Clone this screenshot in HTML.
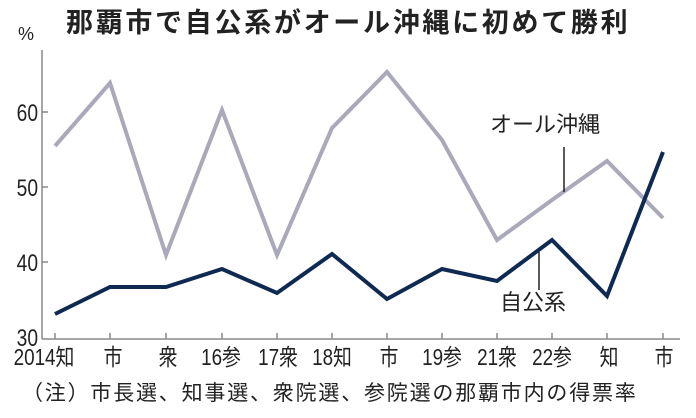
<!DOCTYPE html>
<html><head><meta charset="utf-8"><style>
body{margin:0;background:#fff;}
svg{display:block;}
text{font-family:"Liberation Sans","Noto Sans CJK JP",sans-serif;fill:#222;}
</style></head><body>
<svg width="696" height="418" viewBox="0 0 696 418">
<text x="66" y="32" font-size="27" font-weight="bold" fill="#1a1a1a" style="font-family:'Noto Sans CJK JP',sans-serif;letter-spacing:2.7px">那覇市で自公系がオール沖縄に初めて勝利</text>
<text x="18" y="40" font-size="18">%</text>
<g stroke="#888" stroke-width="1.5" fill="none">
<line x1="42" y1="50" x2="42" y2="339"/>
<line x1="42" y1="339" x2="680" y2="339"/>
<line x1="42" y1="112" x2="48" y2="112"/>
<line x1="42" y1="187" x2="48" y2="187"/>
<line x1="42" y1="262" x2="48" y2="262"/>
<path d="M55 339v-6M110 339v-6M166 339v-6M222 339v-6M277 339v-6M332 339v-6M387 339v-6M442 339v-6M497 339v-6M552 339v-6M607 339v-6M663 339v-6"/>
</g>
<g font-size="24" text-anchor="end">
<text transform="translate(38 121) scale(0.8 1)">60</text>
<text transform="translate(38 196) scale(0.8 1)">50</text>
<text transform="translate(38 271) scale(0.8 1)">40</text>
<text transform="translate(38 346) scale(0.8 1)">30</text>
</g>
<g font-size="23" text-anchor="middle">
<text transform="translate(44 365) scale(0.82 1)">2014知</text>
<text transform="translate(113 365) scale(0.82 1)">市</text>
<text transform="translate(168 365) scale(0.82 1)">衆</text>
<text transform="translate(221 365) scale(0.82 1)">16参</text>
<text transform="translate(278 365) scale(0.82 1)">17衆</text>
<text transform="translate(332 365) scale(0.82 1)">18知</text>
<text transform="translate(389 365) scale(0.82 1)">市</text>
<text transform="translate(442 365) scale(0.82 1)">19参</text>
<text transform="translate(497 365) scale(0.82 1)">21衆</text>
<text transform="translate(552 365) scale(0.82 1)">22参</text>
<text transform="translate(609 365) scale(0.82 1)">知</text>
<text transform="translate(664 365) scale(0.82 1)">市</text>
</g>
<text x="22" y="400" font-size="21" style="font-family:'Noto Sans CJK JP',sans-serif;letter-spacing:1.8px">（注）市長選、知事選、衆院選、参院選の那覇市内の得票率</text>
<polyline fill="none" stroke="#a9a9ba" stroke-width="4" points="55,146 110,83 166,255 222,110 277,255 332,128 387,72 442,140 497,240 552,200 607,161 663,218"/>
<polyline fill="none" stroke="#0f2a52" stroke-width="4" points="55,314 110,287 166,287 222,269 277,293 332,254 387,299 442,269 497,281 552,240 607,296 663,152"/>
<line x1="564" y1="147" x2="564" y2="192" stroke="#222" stroke-width="1.5"/>
<text x="490" y="132" font-size="22" style="font-family:'Noto Sans CJK JP',sans-serif">オール沖縄</text>
<line x1="539" y1="252" x2="539" y2="290" stroke="#222" stroke-width="1.5"/>
<text x="500" y="310" font-size="22" style="font-family:'Noto Sans CJK JP',sans-serif">自公系</text>
</svg>
</body></html>
